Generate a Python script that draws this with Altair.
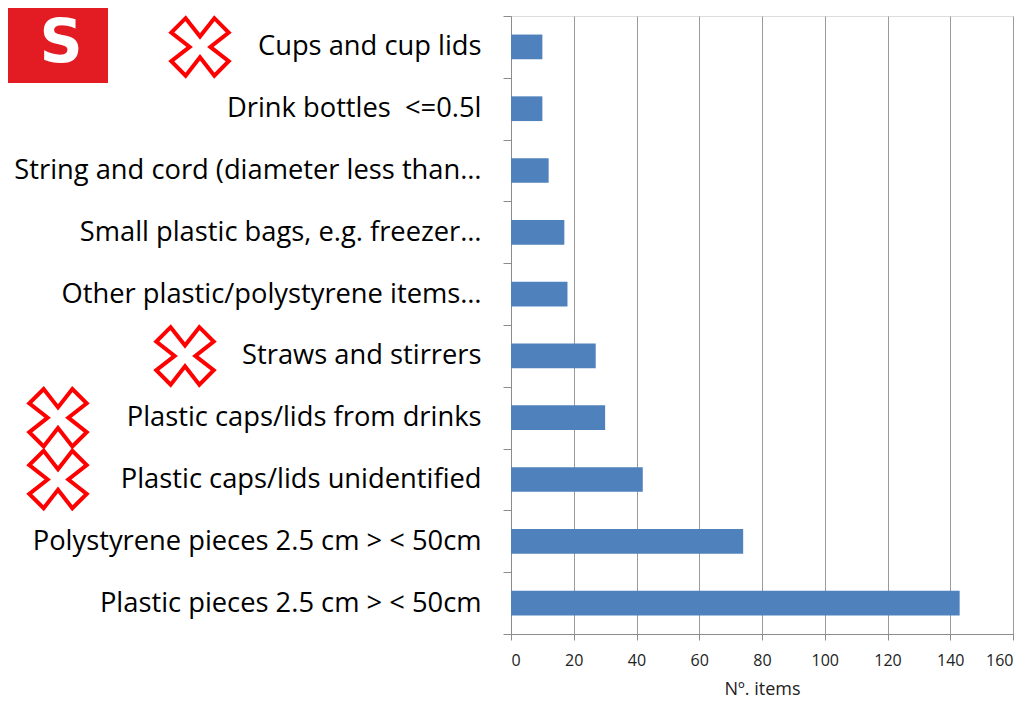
import altair as alt
import pandas as pd

categories = [
    "Cups and cup lids",
    "Drink bottles \u00a0<=0.5l",
    "String and cord (diameter less than…",
    "Small plastic bags, e.g. freezer…",
    "Other plastic/polystyrene items…",
    "Straws and stirrers",
    "Plastic caps/lids from drinks",
    "Plastic caps/lids unidentified",
    "Polystyrene pieces 2.5 cm > < 50cm",
    "Plastic pieces 2.5 cm > < 50cm",
]
values = [10, 10, 12, 17, 18, 27, 30, 42, 74, 143]
x_ticks = [0, 20, 40, 60, 80, 100, 120, 140, 160]

df = pd.DataFrame({"item": categories, "count": values})

FONT = "Open Sans"
X_PATH = ("M0,-0.36 L0.5,-1 L1,-0.5 L0.36,0 L1,0.5 L0.5,1 L0,0.36 "
          "L-0.5,1 L-1,0.5 L-0.36,0 L-1,-0.5 L-0.5,-1 Z")

y_enc = alt.Y(
    "item:N",
    sort=categories,
    title=None,
    scale=alt.Scale(paddingInner=0, paddingOuter=0),
    axis=alt.Axis(
        tickBand="extent",
        tickSize=8,
        tickColor="#8c8c8c",
        domainColor="#8c8c8c",
        labelFont=FONT,
        labelFontSize=27.3,
        labelColor="#000000",
        labelPadding=22,
        labelLimit=600,
        grid=False,
    ),
)

bars = alt.Chart(df).mark_bar(color="#4F81BD", height={"band": 0.4}).encode(
    x=alt.X(
        "count:Q",
        title="Nº. items",
        scale=alt.Scale(domain=[0, 160], nice=False),
        axis=alt.Axis(
            values=x_ticks,
            grid=True,
            gridColor="#9a9a9a",
            gridWidth=1,
            tickColor="#8c8c8c",
            tickSize=6,
            domainColor="#8c8c8c",
            labelFont=FONT,
            labelFontSize=16,
            labelColor="#222222",
            labelPadding=12,
            titleFont=FONT,
            titleFontSize=18,
            titleFontWeight="normal",
            titleColor="#222222",
            titlePadding=12,
        ),
    ),
    y=y_enc,
)

def cross(labels, xpx):
    return alt.Chart(df).transform_filter(
        alt.FieldOneOfPredicate(field="item", oneOf=labels)
    ).mark_point(
        shape=X_PATH, size=3300, filled=True, fill="white",
        stroke="#ff0000", strokeWidth=4, opacity=1,
    ).encode(y=alt.Y("item:N", sort=categories), x=alt.value(xpx))

crosses = (
    cross(["Cups and cup lids"], -311)
    + cross(["Straws and stirrers"], -326)
    + cross(["Plastic caps/lids from drinks", "Plastic caps/lids unidentified"], -453)
)

logo_df = pd.DataFrame({"t": ["S"]})
logo_rect = alt.Chart(logo_df).mark_rect(color="#e31b23").encode(
    x=alt.value(-503), x2=alt.value(-403), y=alt.value(-8), y2=alt.value(67)
)
logo_text = alt.Chart(logo_df).mark_text(
    font="DejaVu Sans", fontSize=60, fontWeight="bold", color="white",
    align="center", baseline="middle",
).encode(text="t:N", x=alt.value(-450), y=alt.value(28))

chart = alt.layer(bars, crosses, logo_rect, logo_text).properties(
    width=502,
    height=618,
    autosize=alt.AutoSizeParams(type="none"),
    padding={"left": 503, "top": 8, "right": 12, "bottom": 70},
).configure_view(stroke=None).configure(background="white")

chart.save("out.html", embed_options={"renderer": "svg", "actions": False})
